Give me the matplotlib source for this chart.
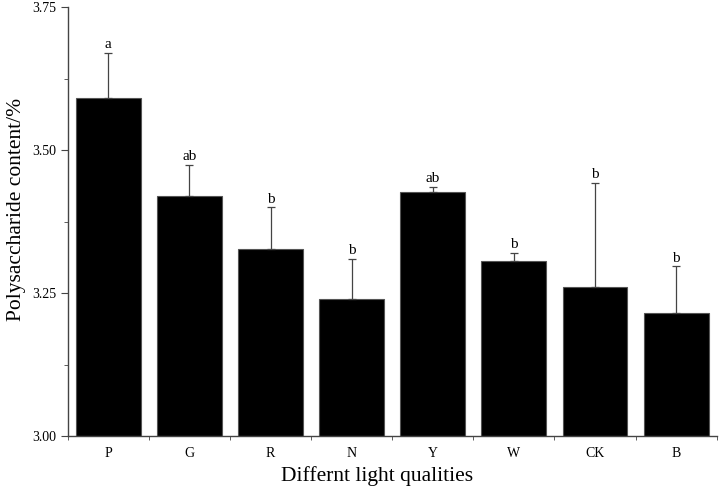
import matplotlib.pyplot as plt
import numpy as np

groups = ['P', 'G', 'R', 'N', 'Y', 'W', 'CK', 'B']
content = [3.592, 3.420, 3.327, 3.239, 3.427, 3.307, 3.260, 3.215]
err = [0.079, 0.054, 0.073, 0.071, 0.009, 0.014, 0.183, 0.082]
letters = ['a', 'ab', 'b', 'b', 'ab', 'b', 'b', 'b']

plt.rcParams['font.family'] = ['Liberation Serif', 'DejaVu Serif']

fig = plt.figure(figsize=(7.21, 4.9), dpi=100)
ax = fig.add_axes([0.094, 0.110, 0.900, 0.875])

x = np.arange(len(groups))
ax.bar(x, np.array(content) - 3.0, bottom=3.0, width=0.8, color='black', edgecolor='#555555', linewidth=0.8)
ax.errorbar(x, content, yerr=[np.zeros(len(err)), err], fmt='none', ecolor='#444444',
            elinewidth=0.9, capsize=3, capthick=0.9)
for xi, c, e, l in zip(x, content, err, letters):
    ax.text(xi, c + e + 0.003, l, ha='center', va='bottom', fontsize=11)

ax.set_xlim(-0.5, 7.5)
ax.set_ylim(3.0, 3.75)
ax.set_yticks([3.00, 3.25, 3.50, 3.75])
ax.set_yticklabels(['3.00', '3.25', '3.50', '3.75'], fontsize=10)
ax.set_yticks(np.arange(3.125, 3.75, 0.25), minor=True)
ax.set_xticks(x)
ax.set_xticklabels(groups, fontsize=10)
ax.set_xticks(np.arange(-0.5, 8, 1), minor=True)
ax.tick_params(axis='x', which='major', length=0, pad=8)
ax.tick_params(axis='both', which='minor', direction='out', length=3, color='#444444')
ax.tick_params(axis='y', which='major', direction='out', length=5, color='#444444')

for s in ['top', 'right']:
    ax.spines[s].set_visible(False)
for s in ['left', 'bottom']:
    ax.spines[s].set_color('#444444')
    ax.spines[s].set_linewidth(1.0)

ax.set_xlabel('Differnt light qualities', fontsize=15.5, x=0.477)
ax.set_ylabel('Polysaccharide content/%', fontsize=15.5, y=0.528)

fig.savefig('out.png', dpi=100)
